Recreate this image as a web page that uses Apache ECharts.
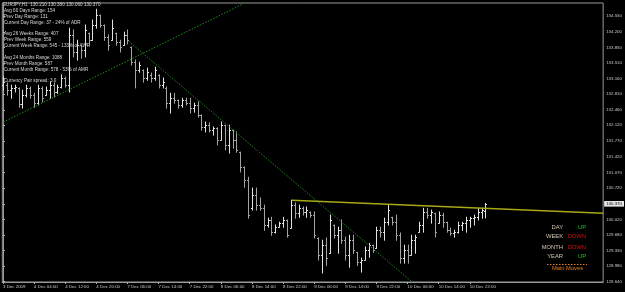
<!DOCTYPE html>
<html><head><meta charset="utf-8">
<script src="https://cdn.jsdelivr.net/npm/echarts@6/dist/echarts.min.js"></script>
<style>html,body{margin:0;padding:0;background:#000;}#c{width:625px;height:292px;}</style>
</head><body><div id="c"></div>
<script>
// EURJPY H1 bars, index 0 = 3 Dec 2009 20:00
const opens = [133.01,133.01,132.90,132.95,132.95,132.59,132.79,132.95,132.79,132.61,
132.95,132.79,132.90,133.01,132.86,132.97,133.17,133.01,134.13,133.75,
133.90,133.79,134.17,134.01,134.35,134.57,134.35,134.08,134.01,134.17,
133.97,133.90,134.13,133.86,133.52,133.35,133.35,133.17,133.24,133.17,
133.24,133.01,132.95,132.61,132.72,132.68,132.57,132.68,132.61,132.50,
132.57,132.35,132.08,132.12,132.01,132.06,131.79,132.12,131.68,132.01,
131.79,131.52,131.19,130.90,130.27,130.56,130.34,130.27,129.90,130.01,
129.74,129.85,129.94,130.01,129.83,130.34,130.16,130.27,130.19,130.19,
130.12,129.61,129.23,129.45,129.27,129.90,129.67,129.78,129.56,129.23,
129.56,129.29,129.07,129.12,129.34,129.45,129.38,129.78,129.74,129.96,
130.07,129.96,129.67,129.16,129.34,129.23,129.56,129.74,129.90,130.19,
130.12,130.16,129.94,130.12,129.96,129.78,129.72,129.74,129.90,129.94,
130.01,130.05,130.07,130.19,130.21];
const highs = [133.19,133.06,133.01,133.01,132.95,132.90,133.01,132.97,132.83,133.01,
132.97,132.97,133.08,133.06,133.01,133.24,133.19,134.28,134.24,134.01,
133.90,134.35,134.17,134.46,134.70,134.57,134.35,134.13,134.46,134.17,
134.01,134.19,134.24,133.86,133.57,133.52,133.35,133.39,133.28,133.41,
133.24,133.17,132.97,132.83,132.83,132.68,132.72,132.72,132.72,132.61,
132.64,132.35,132.19,132.17,132.08,132.06,132.19,132.12,132.12,132.01,
131.97,131.52,131.19,130.96,130.72,130.72,130.50,130.34,130.05,130.07,
129.90,129.96,130.07,130.01,130.45,130.39,130.34,130.30,130.30,130.19,
130.19,129.61,129.56,129.61,130.12,129.90,129.85,130.01,129.63,129.67,
129.67,129.29,129.16,129.41,129.49,129.45,129.85,129.85,130.05,130.34,
130.07,130.12,129.72,129.45,129.45,129.67,129.67,129.96,130.27,130.27,
130.23,130.16,130.19,130.16,129.96,129.83,129.78,129.96,129.96,130.07,
130.07,130.12,130.27,130.27,130.38];
const lows = [132.90,132.79,132.72,132.86,132.52,132.50,132.75,132.72,132.52,132.57,
132.64,132.79,132.72,132.75,132.83,132.95,132.97,132.86,133.64,133.57,
133.61,133.64,133.90,134.01,134.28,134.30,134.01,133.79,134.01,133.90,
133.75,133.90,133.93,133.46,132.95,133.30,133.08,133.12,133.08,133.12,
132.95,132.95,132.50,132.39,132.61,132.50,132.52,132.57,132.39,132.41,
132.30,132.01,131.97,131.97,131.90,131.68,131.79,131.57,131.50,131.61,
131.52,131.08,130.74,130.05,130.23,130.23,130.23,129.78,129.85,129.67,
129.72,129.85,129.85,129.63,129.83,130.05,130.07,130.12,130.07,130.07,
129.61,129.12,128.83,129.00,129.27,129.61,129.27,129.49,129.12,128.96,
129.27,129.00,128.85,129.12,129.18,129.29,129.38,129.63,129.56,129.90,
129.90,129.56,129.05,129.05,129.05,129.23,129.27,129.74,129.74,130.05,
129.94,129.63,129.94,129.85,129.74,129.67,129.63,129.72,129.78,129.74,
129.85,129.90,130.01,130.05,130.06];
const closes = [133.08,132.90,132.95,132.97,132.59,132.79,132.95,132.79,132.61,132.95,
132.72,132.90,133.01,132.86,132.97,133.17,133.01,134.13,133.75,133.90,
133.79,134.24,134.01,134.35,134.57,134.35,134.08,133.90,134.28,133.97,
133.86,134.13,134.01,133.52,133.35,133.46,133.17,133.30,133.17,133.35,
133.01,133.08,132.61,132.72,132.68,132.57,132.68,132.61,132.50,132.57,
132.35,132.08,132.12,132.01,132.06,131.79,132.12,131.68,132.01,131.79,
131.57,131.19,130.90,130.12,130.56,130.34,130.27,129.90,130.01,129.74,
129.85,129.94,130.01,129.67,130.34,130.16,130.27,130.19,130.23,130.12,
129.67,129.23,129.45,129.16,130.01,129.67,129.78,129.56,129.23,129.56,
129.34,129.07,129.12,129.34,129.45,129.34,129.78,129.74,129.96,130.23,
129.96,129.67,129.16,129.34,129.23,129.56,129.63,129.90,130.19,130.12,
130.19,129.74,130.12,129.96,129.78,129.72,129.74,129.90,129.94,130.01,
130.05,130.07,130.19,130.23,130.37];

const timeTickIndex = [0,8,16,24,32,40,48,56,64,72,80,88,96,104,112,120];
const timeTickLabels = ["3 Dec 2009","4 Dec 04:00","4 Dec 12:00","4 Dec 20:00","7 Dec 06:00","7 Dec 14:00","7 Dec 22:00","8 Dec 06:00","8 Dec 14:00","8 Dec 22:00","9 Dec 06:00","9 Dec 14:00","9 Dec 22:00","10 Dec 06:00","10 Dec 14:00","10 Dec 22:00"];
const priceTicks = [128.64,128.98,129.33,129.68,130.02,130.37,130.72,131.07,131.42,131.77,132.12,132.46,132.81,133.16,133.51,133.85,134.20,134.55];

const risingLine = [[0.08,132.19],[62.2,134.84]];
const fallingLine = [[32.29,133.99],[105.16,128.63]];
const resistanceLine = [[74.23,130.45],[154.26,130.16]];
const lastPrice = 130.37;

const headerLine = "EURJPY,H1  130.210 130.380 130.060 130.370";
const infoLines = ["Avg 60 Days Range: 154","Prev Day Range: 131","Current Day Range: 37 - 24% of ADR",
"Avg 26 Weeks Range: 407","Prev Week Range: 559","Current Week Range: 545 - 133% of AWR",
"Avg 24 Months Range: 1088","Prev Month Range: 587","Current Month Range: 578 - 53% of AMR",
"Currency Pair spread: 3.0"];
const trendNames = ["DAY","WEEK","MONTH","YEAR"];
const trendStates = ["UP","DOWN","DOWN","UP"];
const footerLabel = "Main Moves";

const FONT = '"Liberation Sans", Arial, sans-serif';
const bars = opens.map((o,i)=>[i,o,highs[i],lows[i],closes[i]]);

const infoY = [10.7,16.7,22.7,34,39.6,45.7,57.3,63.3,69.3,80.7];
const trendY = [227.3,236.7,247,256.7];
const graphic = [];
graphic.push({type:'text', x:3, y:5, silent:true, style:{text:headerLine, fill:'#d8d8d8', font:'4.6px '+FONT, verticalAlign:'middle'}});
infoLines.forEach((t,k)=>graphic.push({type:'text', x:4, y:infoY[k], silent:true, style:{text:t, fill:'#d8d8d8', font:'4.6px '+FONT, verticalAlign:'middle'}}));
trendNames.forEach((t,k)=>{
  graphic.push({type:'text', x:563, y:trendY[k], silent:true, style:{text:t, fill:'#d6c6ae', font:'5.8px '+FONT, align:'right', verticalAlign:'middle'}});
  graphic.push({type:'text', x:586, y:trendY[k], silent:true, style:{text:trendStates[k], fill: trendStates[k]==='UP' ? '#1cc81c' : '#cc1010', font:'5.8px '+FONT, align:'right', verticalAlign:'middle'}});
});
graphic.push({type:'line', silent:true, shape:{x1:547,y1:264.5,x2:587,y2:264.5}, style:{stroke:'#e0801e', lineWidth:1, lineDash:[1.5,1.5]}});
graphic.push({type:'text', x:567.5, y:268.5, silent:true, style:{text:footerLabel, fill:'#e0801e', font:'5.8px '+FONT, align:'center', verticalAlign:'middle'}});

const chart = echarts.init(document.getElementById('c'), null, {renderer:'canvas'});
chart.setOption({
  animation:false,
  backgroundColor:'#000',
  grid:{left:1, right:20, top:3, bottom:10, show:true, borderColor:'#9a9a9a', borderWidth:1, backgroundColor:'#000'},
  xAxis:{type:'value', min:-0.18, max:154.26,
    axisLine:{show:true, lineStyle:{color:'#9a9a9a', width:1}},
    axisTick:{show:true, customValues:timeTickIndex, length:2, lineStyle:{color:'#b0b0b0'}},
    axisLabel:{show:true, customValues:timeTickIndex, align:'left', margin:3, fontSize:4.4, color:'#c8c8c8', fontFamily:FONT,
      formatter:v=>timeTickLabels[timeTickIndex.indexOf(Math.round(v))] || ''},
    splitLine:{show:false}},
  yAxis:{type:'value', position:'right', min:128.63, max:134.84, scale:true,
    axisLine:{show:true, lineStyle:{color:'#9a9a9a', width:1}},
    axisTick:{show:true, customValues:priceTicks, length:2, lineStyle:{color:'#b0b0b0'}},
    axisLabel:{show:true, customValues:priceTicks, margin:3, fontSize:4.4, color:'#c8c8c8', fontFamily:FONT,
      formatter:v=>v.toFixed(3)},
    splitLine:{show:false},
    axisPointer:{show:true, value:lastPrice, status:'show', type:'line', snap:false, triggerTooltip:false,
      lineStyle:{opacity:0},
      label:{show:true, formatter:p=>Number(p.value).toFixed(3), backgroundColor:'#e6e6e6', color:'#000',
        fontSize:4.4, fontFamily:FONT, padding:[0.8,2,0.8,2], margin:1, borderRadius:0}}},
  graphic: graphic,
  series:[
    {type:'custom', name:'bars', data:bars, encode:{x:0, y:[1,2,3,4]}, clip:true,
      renderItem:function(params, api){
        const x = api.value(0);
        const pO = api.coord([x, api.value(1)]);
        const pH = api.coord([x, api.value(2)]);
        const pL = api.coord([x, api.value(3)]);
        const pC = api.coord([x, api.value(4)]);
        const cx = Math.round(pO[0]) + 0.5;
        const up = api.value(4) >= api.value(1);
        const style = {stroke: up ? '#e2e2e2' : '#a4a4a4', lineWidth:1};
        return {type:'group', children:[
          {type:'line', shape:{x1:cx, y1:pH[1]-0.5, x2:cx, y2:pL[1]+0.5}, style:style},
          {type:'line', shape:{x1:cx-1.5, y1:Math.round(pO[1])+0.5, x2:cx, y2:Math.round(pO[1])+0.5}, style:style},
          {type:'line', shape:{x1:cx, y1:Math.round(pC[1])+0.5, x2:cx+1.5, y2:Math.round(pC[1])+0.5}, style:style}
        ]};
      }},
    {type:'line', name:'rising', data:risingLine, symbol:'none', clip:true, lineStyle:{color:'#1e8a1e', width:1, type:[1.5,1.5]}},
    {type:'line', name:'falling', data:fallingLine, symbol:'none', clip:true, lineStyle:{color:'#1e8a1e', width:1, type:[1.5,1.5]}},
    {type:'line', name:'resistance', data:resistanceLine, symbol:'none', clip:true, lineStyle:{color:'#a8a818', width:1.4}}
  ]
});
</script></body></html>
